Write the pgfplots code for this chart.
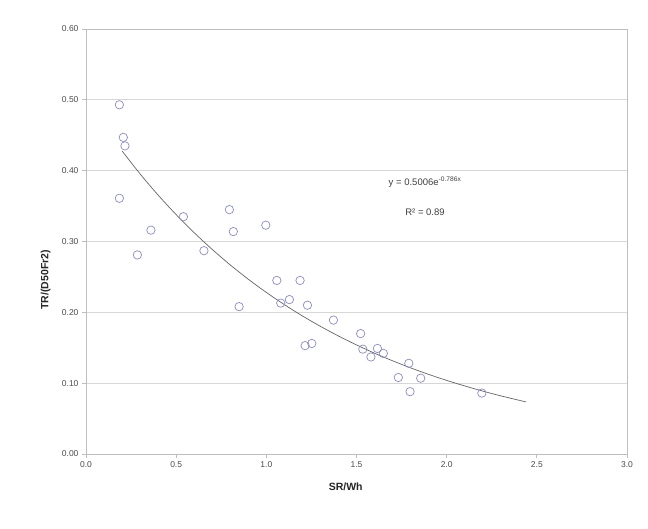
\documentclass[border=0pt]{standalone}
\usepackage{pgfplots}
\pgfplotsset{compat=1.18}
\usepackage{fontspec}
\setmainfont{Liberation Sans}
\definecolor{mk}{RGB}{140,140,200}
\definecolor{gridc}{RGB}{215,215,215}
\definecolor{axc}{RGB}{190,190,190}
\begin{document}
\begin{tikzpicture}[x=1pt,y=1pt]
\useasboundingbox (0,0) rectangle (648,529);
\fill[white] (0,0) rectangle (648,529);
\begin{axis}[
  at={(86pt,75pt)}, anchor=south west,
  scale only axis, width=541pt, height=425pt,
  xmin=0, xmax=3, ymin=0, ymax=0.6,
  xtick={0,0.5,...,3.0}, ytick={0,0.1,...,0.6},
  xticklabel style={/pgf/number format/.cd,fixed,fixed zerofill,precision=1},
  yticklabel style={/pgf/number format/.cd,fixed,fixed zerofill,precision=2},
  /pgf/number format/assume math mode=true,
  tick label style={font=\fontsize{8.5}{10}\selectfont, text=black!70},
  ymajorgrids, grid style={gridc, line width=0.8pt},
  axis line style={axc, line width=0.8pt},
  tick style={axc, line width=0.8pt},
  tick align=outside, major tick length=4pt,
  xtick pos=bottom, ytick pos=left,
  xlabel={\textbf{SR/Wh}}, ylabel={\textbf{TR/(D50Fr2)}},
  label style={font=\fontsize{10.5}{12}\selectfont, text=black!85},
  xlabel style={at={(axis description cs:0.48,0)}, anchor=north, yshift=-25pt},
  ylabel style={at={(axis description cs:0,0.41)}, anchor=south, yshift=32pt},
  clip=false,
]
\addplot[only marks, mark=o, mark size=4.2pt, mark options={mk, line width=0.7pt}] coordinates {
(0.185,0.493) (0.207,0.447) (0.216,0.435) (0.185,0.361) (0.540,0.335)
(0.360,0.316) (0.285,0.281) (0.795,0.345) (0.817,0.314) (0.997,0.323)
(0.654,0.287) (1.058,0.245) (1.187,0.245) (1.080,0.213) (1.128,0.218)
(1.228,0.210) (0.849,0.208) (1.372,0.189) (1.215,0.153) (1.252,0.156)
(1.523,0.170) (1.535,0.148) (1.580,0.137) (1.616,0.149) (1.649,0.142)
(1.790,0.128) (1.732,0.108) (1.856,0.107) (1.797,0.088) (2.195,0.086)
};
\addplot[black!60, line width=0.7pt, smooth] coordinates {
(0.2,0.4278) (0.3,0.3954) (0.4,0.3655) (0.5,0.3379) (0.6,0.3124) (0.7,0.2888)
(0.8,0.2669) (0.9,0.2467) (1.0,0.2281) (1.1,0.2109) (1.2,0.1949) (1.3,0.1802)
(1.4,0.1666) (1.5,0.1540) (1.6,0.1423) (1.7,0.1316) (1.8,0.1216) (1.9,0.1124)
(2.0,0.1039) (2.1,0.0961) (2.2,0.0888) (2.3,0.0821) (2.44,0.0735)
};
\node[font=\fontsize{9.5}{11}\selectfont, text=black!75] at (axis cs:1.88,0.384) {y = 0.5006e\textsuperscript{-0.786x}};
\node[font=\fontsize{9.5}{11}\selectfont, text=black!75] at (axis cs:1.88,0.342) {R² = 0.89};
\draw[axc, line width=0.8pt] (rel axis cs:0,1) -- (rel axis cs:1,1) -- (rel axis cs:1,0);
\end{axis}
\end{tikzpicture}
\end{document}
